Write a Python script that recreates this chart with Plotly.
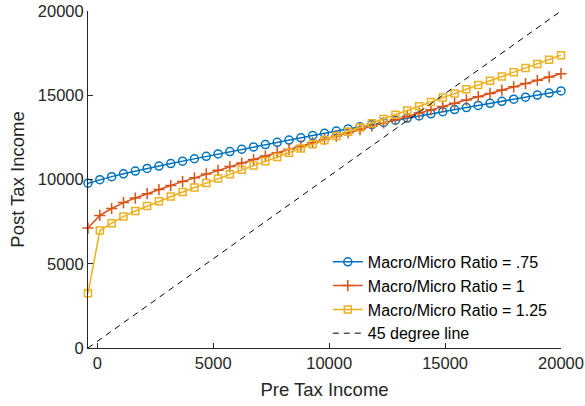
import plotly.graph_objects as go

pre_tax = [-400, 110, 620, 1130, 1640, 2150, 2660, 3170, 3680, 4190, 4700,
           5210, 5720, 6230, 6740, 7250, 7760, 8270, 8780, 9290, 9800,
           10310, 10820, 11330, 11840, 12350, 12860, 13370, 13880, 14390, 14900,
           15410, 15920, 16430, 16940, 17450, 17960, 18470, 18980, 19490, 20000]

post_075 = [9780, 9990, 10170, 10340, 10500, 10655, 10800, 10945, 11090, 11232, 11374,
            11515, 11655, 11795, 11933, 12070, 12206, 12341, 12475, 12608, 12740,
            12871, 13001, 13131, 13260, 13388, 13516, 13643, 13770, 13896, 14022,
            14147, 14272, 14396, 14520, 14643, 14766, 14888, 15010, 15132, 15254]

post_100 = [7120, 7870, 8280, 8630, 8900, 9160, 9400, 9645, 9875, 10100, 10330,
            10550, 10765, 10975, 11185, 11390, 11590, 11790, 11990, 12185, 12380,
            12575, 12770, 12965, 13160, 13355, 13550, 13745, 13940, 14135, 14330,
            14525, 14720, 14915, 15110, 15305, 15500, 15695, 15890, 16085, 16280]

post_125 = [3250, 6970, 7410, 7800, 8130, 8420, 8705, 8985, 9260, 9525, 9790,
            10055, 10315, 10575, 10830, 11085, 11335, 11585, 11835, 12085, 12335,
            12585, 12835, 13085, 13335, 13585, 13840, 14095, 14350, 14605, 14860,
            15110, 15360, 15610, 15860, 16110, 16360, 16610, 16860, 17110, 17370]

line45_x = [pre_tax[0], pre_tax[-1]]
line45_y = [0, pre_tax[-1]]

names = ["Macro/Micro Ratio = .75", "Macro/Micro Ratio = 1",
         "Macro/Micro Ratio = 1.25", "45 degree line"]
x_ticks = [0, 5000, 10000, 15000, 20000]
y_ticks = [0, 5000, 10000, 15000, 20000]

BLUE = "#0072BD"
RED = "#D95319"
YEL = "#EDB120"
TXT = "#262626"

fig = go.Figure()
fig.add_trace(go.Scatter(x=pre_tax, y=post_075, name=names[0], mode="lines+markers",
                         line=dict(color=BLUE, width=1.5), cliponaxis=False,
                         marker=dict(symbol="circle-open", size=8, color=BLUE,
                                     line=dict(width=1.5, color=BLUE))))
fig.add_trace(go.Scatter(x=pre_tax, y=post_100, name=names[1], mode="lines+markers",
                         line=dict(color=RED, width=1.5), cliponaxis=False,
                         marker=dict(symbol="cross-thin-open", size=8, color=RED,
                                     line=dict(width=1.5, color=RED))))
fig.add_trace(go.Scatter(x=pre_tax, y=post_125, name=names[2], mode="lines+markers",
                         line=dict(color=YEL, width=1.5), cliponaxis=False,
                         marker=dict(symbol="square-open", size=7, color=YEL,
                                     line=dict(width=1.5, color=YEL))))
fig.add_trace(go.Scatter(x=line45_x, y=line45_y, name=names[3], mode="lines",
                         line=dict(color="black", width=1, dash="6px,5px")))

fig.update_layout(
    width=585, height=406,
    margin=dict(l=88, r=24, t=11, b=58, autoexpand=False),
    paper_bgcolor="white", plot_bgcolor="white",
    font=dict(family="Liberation Sans, Arial, sans-serif", color=TXT, size=16),
    showlegend=True,
    legend=dict(x=0.507, y=0.306, xanchor="left", yanchor="top",
                bgcolor="rgba(255,255,255,0)", borderwidth=0,
                font=dict(size=16, color="black"), tracegroupgap=0,
                itemwidth=30),
)
fig.update_xaxes(range=[pre_tax[0], pre_tax[-1]], tickvals=x_ticks,
                 ticktext=[str(v) for v in x_ticks], automargin=False,
                 ticklabeloverflow="allow",
                 showgrid=False, zeroline=False, showline=True, linecolor=TXT,
                 linewidth=1, ticks="inside", ticklen=5, tickcolor=TXT,
                 tickfont=dict(size=16.5, color=TXT),
                 title=dict(text="Pre Tax Income", font=dict(size=18.5, color=TXT), standoff=12))
fig.update_yaxes(range=[0, 20000], tickvals=y_ticks,
                 ticktext=[str(v) for v in y_ticks], automargin=False,
                 ticklabeloverflow="allow",
                 showgrid=False, zeroline=False, showline=True, linecolor=TXT,
                 linewidth=1, ticks="inside", ticklen=5, tickcolor=TXT,
                 tickfont=dict(size=16.5, color=TXT),
                 title=dict(text="Post Tax Income", font=dict(size=18.5, color=TXT), standoff=8))

fig.write_html("out.html", config={"displayModeBar": False},
               post_script="document.body.style.margin='0';")
